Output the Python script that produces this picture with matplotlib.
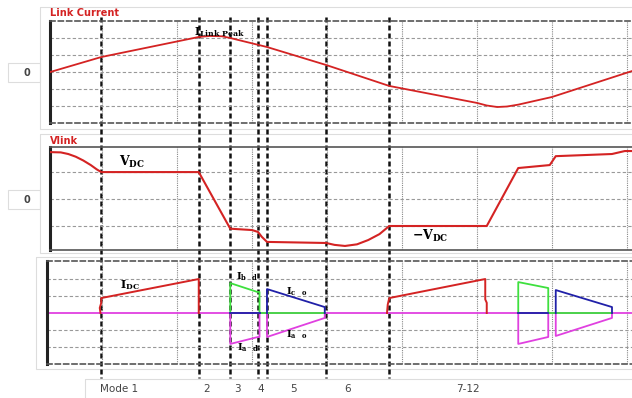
import matplotlib
matplotlib.use("Agg")
import matplotlib.pyplot as plt
from matplotlib.patches import Rectangle

plt.rcParams['mathtext.fontset'] = 'dejavuserif'

# time axis: one grid division = 1 unit
mode_edges = [0.99, 2.29, 2.71, 3.08, 3.2, 3.99, 4.83]
mode_labels = ["Mode 1", "2", "3", "4", "5", "6", "7-12"]
mode_label_t = [1.23, 2.4, 2.81, 3.12, 3.55, 4.27, 5.88]

# link current (grid units)
t_ilink = [0.31, 0.99, 2.29, 2.44, 2.6, 2.71, 3.2, 3.99, 4.83, 6.0, 6.13, 6.27, 6.4, 6.55, 7.0, 8.07]
ilink = [0.0, 0.88, 2.06, 2.12, 2.1, 2.0, 1.47, 0.41, -0.82, -1.82, -1.97, -2.06, -2.03, -1.92, -1.47, 0.06]

# link voltage (grid units, VDC = 1)
t_vlink = [0.31, 0.45, 0.55, 0.65, 0.75, 0.85, 0.93, 0.99, 2.29, 2.71, 3.0, 3.08, 3.13, 3.2,
           3.99, 4.1, 4.24, 4.4, 4.55, 4.7, 4.83, 6.13, 6.55, 6.97, 7.05, 7.8, 7.97, 8.07]
vlink = [1.74, 1.73, 1.67, 1.57, 1.43, 1.26, 1.1, 1.0, 1.0, -1.1, -1.15, -1.22, -1.4, -1.59,
         -1.63, -1.7, -1.74, -1.68, -1.52, -1.3, -1.0, -1.0, 1.15, 1.26, 1.59, 1.67, 1.78, 1.78]

# phase / dc currents
t_idc1 = [0.98, 0.97, 0.99, 0.99, 2.29, 2.29]
idc1 = [0.0, 0.3, 0.6, 0.88, 2.0, 0.0]
t_idc2 = [4.8, 4.81, 4.83, 6.11, 6.11, 6.13, 6.13]
idc2 = [0.0, 0.5, 0.88, 2.0, 0.8, 0.6, 0.0]

t_ib1 = [2.71, 2.71, 3.07, 3.1, 3.1, 3.97]
ib1 = [0.0, 1.76, 1.24, 1.24, 0.0, 0.0]
t_ia1 = [2.71, 2.71, 3.08, 3.1, 3.1]
ia1 = [0.0, -1.82, -1.41, -1.41, 0.0]
t_ic1 = [3.2, 3.2, 3.97, 3.97]
ic1 = [0.0, 1.41, 0.35, 0.0]
t_ia2 = [3.2, 3.2, 3.97, 3.97]
ia2 = [0.0, -1.41, -0.29, 0.0]

t_ib2 = [6.55, 6.55, 6.95, 6.95, 6.95, 7.8]
ib2 = [0.0, 1.82, 1.47, 0.0, 0.0, 0.0]
t_ia3 = [6.55, 6.55, 6.95, 6.95]
ia3 = [0.0, -1.82, -1.41, 0.0]
t_ic2 = [7.05, 7.05, 7.8, 7.8]
ic2 = [0.0, 1.35, 0.35, 0.0]
t_ia4 = [7.05, 7.05, 7.8, 7.8]
ia4 = [0.0, -1.35, -0.29, 0.0]
t_icz = [[2.71, 3.1], [6.55, 6.95]]

RED = '#d42323'
GREEN = '#3ee03e'
BLUE = '#2020a8'
MAG = '#e040e0'
W, H = 632, 398


def px(t):
    return 27 + 75 * t


fig = plt.figure(figsize=(6.32, 3.98), dpi=100)

# background frames and mode boundaries in pixel coordinates
bg = fig.add_axes([0, 0, 1, 1], zorder=0)
bg.set_xlim(0, W)
bg.set_ylim(H, 0)
bg.axis('off')
for (x0, y0, x1, y1) in [(40, 7, 640, 129), (40, 134, 640, 253), (36, 257, 640, 369),
                         (8, 63, 40, 82), (8, 190, 40, 209), (85, 379, 640, 400)]:
    bg.add_patch(Rectangle((x0, y0), x1 - x0, y1 - y0, fill=False, ec='#dddddd', lw=0.8))
bg.text(27, 73, "0", ha='center', va='center', fontsize=7, fontweight='bold', color='#444444')
bg.text(27, 200, "0", ha='center', va='center', fontsize=7, fontweight='bold', color='#444444')
for t in mode_edges:
    bg.plot([px(t), px(t)], [17, 378], color='#111111', lw=1.8, ls=(0, (2, 1.2)))
for lab, t in zip(mode_labels, mode_label_t):
    bg.text(px(t), 389, lab, ha='center', va='center', fontsize=7.5, color='#444444')


def panel(y0, y1, x0, ylim, hgrid, top_style, bottom_style):
    ax = fig.add_axes([x0 / W, 1 - y1 / H, (W - x0) / W, (y1 - y0) / H], zorder=1)
    ax.set_facecolor('none')
    ax.set_xlim((x0 - 27) / 75, (W - 27) / 75)
    ax.set_ylim(*ylim)
    ax.set_xticks([])
    ax.set_yticks([])
    for t in range(1, 9):
        ax.axvline(t, color='#888888', lw=0.8, ls=(0, (1, 1)), zorder=1)
    for v in hgrid:
        ax.axhline(v, color='#999999', lw=0.8, ls=(0, (3, 2)), zorder=1)
    ax.spines['left'].set_linewidth(2.2)
    ax.spines['left'].set_color('#222222')
    ax.spines['right'].set_visible(False)
    for name, style in [('top', top_style), ('bottom', bottom_style)]:
        sp = ax.spines[name]
        sp.set_color('#555555')
        sp.set_linewidth(1.2)
        sp.set_linestyle(style)
    return ax


ax1 = panel(21, 123, 50, (-3, 3), [-2, -1, 0, 1, 2], (0, (3, 2)), (0, (3, 2)))
ax2 = panel(147, 250, 50, (-1.89, 1.93), [-1, 0, 1], '-', '-')
ax3 = panel(261, 364, 47, (-3.0, 3.06), [-2, -1, 1, 2], (0, (3, 2)), (0, (3, 2)))

ax1.plot(t_ilink, ilink, color=RED, lw=1.3, zorder=3)
ax2.plot(t_vlink, vlink, color=RED, lw=1.5, zorder=3)

ax3.axhline(0, color=MAG, lw=1.3, zorder=2)
for tt, vv in [(t_idc1, idc1), (t_idc2, idc2)]:
    ax3.plot(tt, vv, color=RED, lw=1.4, zorder=3)
for tt, vv in [(t_ia1, ia1), (t_ia2, ia2), (t_ia3, ia3), (t_ia4, ia4)]:
    ax3.plot(tt, vv, color=MAG, lw=1.3, zorder=3)
for tt, vv in [(t_ib1, ib1), (t_ib2, ib2)]:
    ax3.plot(tt, vv, color=GREEN, lw=1.3, zorder=3)
for tt in t_icz:
    ax3.plot(tt, [0, 0], color=BLUE, lw=1.3, zorder=4)
for tt, vv in [(t_ic1, ic1), (t_ic2, ic2)]:
    ax3.plot(tt, vv, color=BLUE, lw=1.3, zorder=4)

# overlay: labels
ov = fig.add_axes([0, 0, 1, 1], zorder=5)
ov.set_facecolor('none')
ov.set_xlim(0, W)
ov.set_ylim(H, 0)
ov.axis('off')

ov.text(50, 13, "Link Current", color=RED, fontsize=7, fontweight='bold', va='center')
ov.text(50, 141, "Vlink", color=RED, fontsize=7, fontweight='bold', va='center')

ov.text(194, 32, r'$\mathbf{I}_{\mathbf{Link\ Peak}}$', fontsize=8, va='center')
ov.text(119, 162, r'$\mathbf{V_{DC}}$', fontsize=9, va='center')
ov.text(412, 236, r'$\mathbf{-V_{DC}}$', fontsize=9, va='center')
ov.text(120, 285, r'$\mathbf{I_{DC}}$', fontsize=8, va='center')
ov.text(236, 277, r'$\mathbf{I_b\ \ _d}$', fontsize=7, va='center')
ov.text(237, 348, r'$\mathbf{I_a\ \ _d}$', fontsize=7, va='center')
ov.text(286, 292, r'$\mathbf{I_c\ \ _o}$', fontsize=7, va='center')
ov.text(286, 335, r'$\mathbf{I_a\ \ _o}$', fontsize=7, va='center')

fig.savefig("out.png", dpi=100)
